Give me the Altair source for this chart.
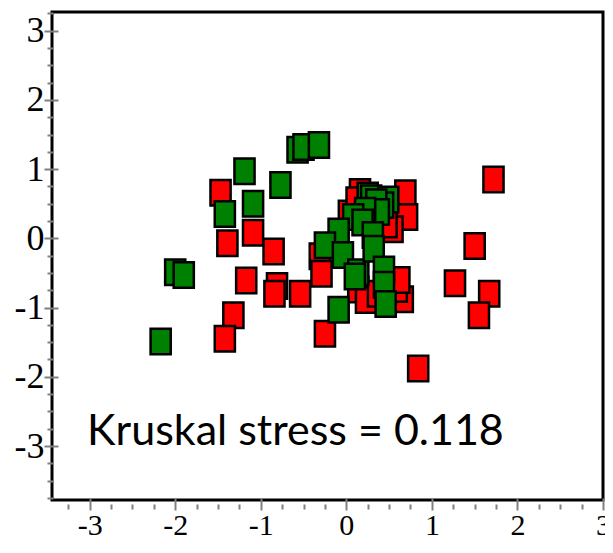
import altair as alt
import pandas as pd

# --- data ---
red_x = [1.72, 1.50, 1.27, 1.67, 1.55, 0.84, -1.47, -1.09, -1.39, -0.85, -1.17, -0.81,
         -0.84, -0.54, -1.32, -1.42, -0.25, -0.31, -0.29, 0.14, 0.23, 0.66, 0.59, 0.16,
         0.69, 0.71, 0.03, 0.54, 0.47, 0.12, 0.37, 0.62]
red_y = [0.85, -0.11, -0.65, -0.80, -1.11, -1.88, 0.66, 0.08, -0.07, -0.19, -0.61, -0.69,
         -0.80, -0.80, -1.11, -1.45, -1.38, -0.26, -0.51, -0.74, -0.89, -0.88, -0.73, 0.67,
         0.65, 0.31, 0.36, 0.13, 0.20, 0.55, -0.80, -0.60]

green_x = [-0.57, -0.50, -0.32, -1.19, -0.77, -1.42, -1.09, -2.00, -1.90, -2.17, -0.09,
           0.25, 0.29, 0.49, 0.43, 0.35, 0.38, 0.22, 0.08, 0.19, 0.31, -0.09, -0.25,
           -0.04, 0.14, 0.10, 0.32, 0.44, 0.44, 0.46]
green_y = [1.28, 1.32, 1.35, 0.97, 0.77, 0.35, 0.50, -0.49, -0.53, -1.49, -1.03,
           0.62, 0.58, 0.56, 0.48, 0.52, 0.38, 0.40, 0.31, 0.23, 0.05, 0.10, -0.10,
           -0.24, -0.49, -0.55, -0.15, -0.45, -0.67, -0.95]

group_colors = ["#ff0000", "#008000"]
annotation = ["Kruskal stress = 0.118"]
ann_x = [-3.03]
ann_y = [-2.99]

x_major = [-3, -2, -1, 0, 1, 2, 3]
y_major = [-3, -2, -1, 0, 1, 2, 3]
x_minor = [-3.25, -2.75, -2.5, -2.25, -1.75, -1.5, -1.25, -0.75, -0.5, -0.25,
           0.25, 0.5, 0.75, 1.25, 1.5, 1.75, 2.25, 2.5, 2.75]
y_minor = [-3.75, -3.5, -3.25, -2.75, -2.5, -2.25, -1.75, -1.5, -1.25, -0.75, -0.5, -0.25,
           0.25, 0.5, 0.75, 1.25, 1.5, 1.75, 2.25, 2.5, 2.75, 3.25]

df = pd.DataFrame({
    "x": red_x + green_x,
    "y": red_y + green_y,
    "g": ["red"] * len(red_x) + ["green"] * len(green_x),
    "order": list(range(len(red_x) + len(green_x))),
})
ann = pd.DataFrame({"x": ann_x, "y": ann_y, "t": annotation})

label_expr = "datum.value < 0 ? '-' + (-datum.value) : '' + datum.value"

common = dict(title=None, domain=False, grid=False, tickColor="#808080", tickWidth=2)

x_axis_major = alt.Axis(
    values=x_major, orient="bottom", labelExpr=label_expr,
    labelFont="Liberation Serif", labelFontSize=30, labelColor="black",
    labelOverlap=False, labelFlush=False, labelPadding=0,
    offset=-2, tickSize=12, **common,
)
y_axis_major = alt.Axis(
    values=y_major, orient="left", labelExpr=label_expr,
    labelFont="Liberation Serif", labelFontSize=36, labelColor="black",
    labelOverlap=False, labelPadding=0,
    offset=-6, tickSize=14, **common,
)
x_axis_minor = alt.Axis(values=x_minor, orient="bottom", labels=False,
                        offset=-2, tickSize=11, tickDash=[0, 6, 5, 100], **common)
y_axis_minor = alt.Axis(values=y_minor, orient="left", labels=False,
                        offset=-6, tickSize=11, tickDash=[0, 5, 6, 100], **common)

x_scale = alt.Scale(domain=[-3.44, 3.0], nice=False, zero=False)
y_scale = alt.Scale(domain=[-3.78, 3.27], nice=False, zero=False)

points = alt.Chart(df).mark_point(
    shape="M-0.79,-1L0.79,-1L0.79,1L-0.79,1Z", size=650, filled=True,
    stroke="black", strokeWidth=2.5, opacity=1,
).encode(
    x=alt.X("x:Q", scale=x_scale, axis=x_axis_major),
    y=alt.Y("y:Q", scale=y_scale, axis=y_axis_major),
    color=alt.Color("g:N", scale=alt.Scale(domain=["red", "green"], range=group_colors), legend=None),
    order=alt.Order("order:Q"),
)

text = alt.Chart(ann).mark_text(
    font="Lato", fontSize=43, align="left", baseline="alphabetic", color="black",
).encode(
    x=alt.X("x:Q", scale=x_scale, axis=x_axis_minor),
    y=alt.Y("y:Q", scale=y_scale, axis=y_axis_minor),
    text="t:N",
)

chart = alt.layer(points, text).resolve_axis(x="independent", y="independent").properties(
    width=551, height=488,
    autosize=alt.AutoSizeParams(type="none"),
    padding={"left": 44, "top": 4, "right": 2, "bottom": 40},
    background="white",
).configure_view(stroke="black", strokeWidth=3, fill="white")

chart.save("out.html", embed_options={"renderer": "svg", "actions": False})
